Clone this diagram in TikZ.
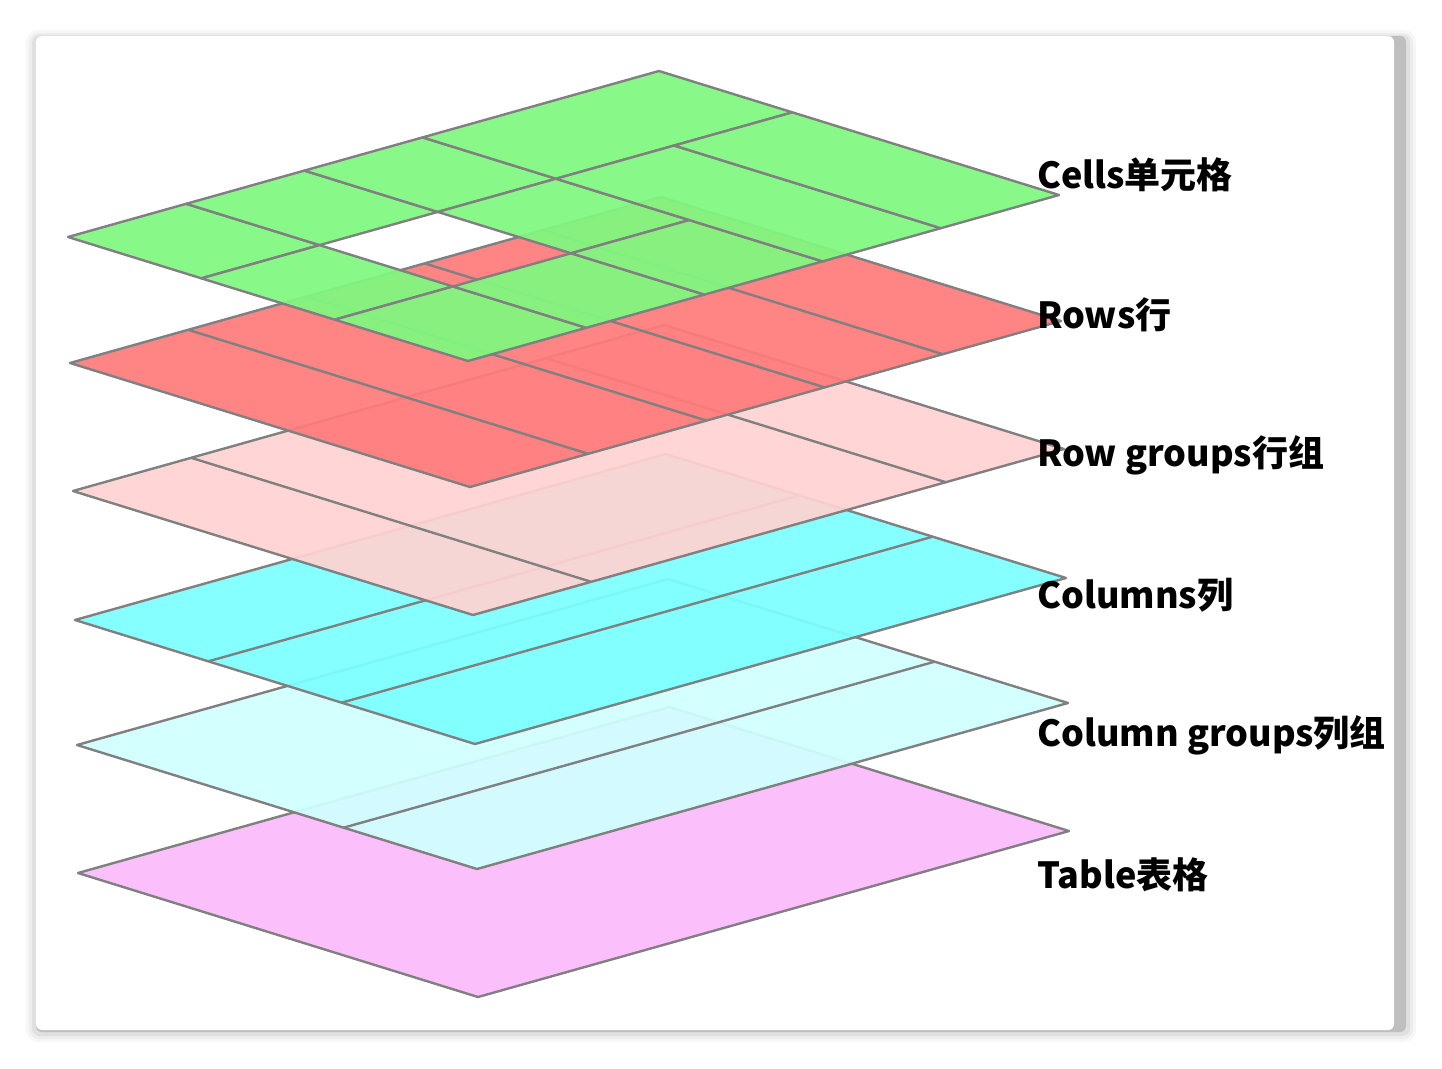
\documentclass[tikz,border=0pt]{standalone}
\usepackage{fontspec}
\setmainfont{Noto Sans CJK SC}
\definecolor{cgreen}{HTML}{7FF97F}
\definecolor{cred}{HTML}{FF7B7B}
\definecolor{cpink}{HTML}{FFD2D2}
\definecolor{ccyan}{HTML}{7CFFFF}
\definecolor{clcyan}{HTML}{D0FFFF}
\definecolor{cmag}{HTML}{FBBBFB}
\definecolor{cedge}{HTML}{808080}
\tikzset{
  plane/.style={draw=cedge,line width=2.4pt,line join=round,fill opacity=0.93},
  divline/.style={draw=cedge,line width=2.4pt},
  lbl/.style={anchor=west,font=\fontsize{36}{40}\selectfont\bfseries,inner sep=0pt},
  layer/.style 2 args={shift={(#1pt,-#2pt)},x={(400pt,-124pt)},y={(591pt,166pt)}}
}
\newcommand{\mycell}[4]{\filldraw[plane,fill=cgreen] (#1,#2)--(#3,#2)--(#3,#4)--(#1,#4)--cycle;}
\begin{document}
\begin{tikzpicture}[x=1pt,y=-1pt]
\useasboundingbox (0,0) rectangle (1442,1068);
% card shadow
\fill[black!3,rounded corners=12] (26,30) rectangle (1416,1042);
\fill[black!7,rounded corners=10] (29,33) rectangle (1413,1039);
\fill[black!12,rounded corners=8] (32,35) rectangle (1410,1036);
\fill[black!25,rounded corners=6] (36,36) rectangle (1406,1032);
\fill[white,rounded corners=6] (36,36) rectangle (1394,1030);
% Table
\begin{scope}[layer={78}{873}]
\filldraw[plane,fill=cmag] (0,0)--(1,0)--(1,1)--(0,1)--cycle;
\end{scope}
% Column groups
\begin{scope}[layer={77}{745}]
\filldraw[plane,fill=clcyan] (0,0)--(1,0)--(1,1)--(0,1)--cycle;
\draw[divline] (2/3,0)--(2/3,1);
\end{scope}
% Columns
\begin{scope}[layer={75}{620}]
\filldraw[plane,fill=ccyan] (0,0)--(1,0)--(1,1)--(0,1)--cycle;
\draw[divline] (1/3,0)--(1/3,1) (2/3,0)--(2/3,1);
\end{scope}
% Row groups
\begin{scope}[layer={73}{491}]
\filldraw[plane,fill=cpink] (0,0)--(1,0)--(1,1)--(0,1)--cycle;
\draw[divline] (0,0.2)--(1,0.2) (0,0.8)--(1,0.8);
\end{scope}
% Rows
\begin{scope}[layer={70}{363}]
\filldraw[plane,fill=cred] (0,0)--(1,0)--(1,1)--(0,1)--cycle;
\draw[divline] (0,0.2)--(1,0.2) (0,0.4)--(1,0.4) (0,0.6)--(1,0.6) (0,0.8)--(1,0.8);
\end{scope}
% Cells
\begin{scope}[layer={68}{237}]
\mycell{0}{0}{1/3}{0.2}
\mycell{0}{0.2}{1/3}{0.4}
\mycell{0}{0.4}{1/3}{0.6}
\mycell{0}{0.6}{1/3}{1}
\mycell{1/3}{0}{2/3}{0.2}
\mycell{2/3}{0}{1}{0.2}
\mycell{2/3}{0.2}{1}{0.4}
\mycell{1/3}{0.4}{2/3}{0.6}
\mycell{2/3}{0.4}{1}{0.6}
\mycell{1/3}{0.6}{1}{0.8}
\mycell{1/3}{0.8}{1}{1}
\end{scope}
% labels
\node[lbl] (lcells) at (1037,175) {Cells单元格};
\node[lbl] (lrows) at (1037,315) {Rows行};
\node[lbl] (lrg) at (1037,455) {Row groups行组};
\node[lbl] (lcols) at (1037,595) {Columns列};
\node[lbl] (lcg) at (1037,735) {Column groups列组};
\node[lbl] (ltab) at (1037,875) {Table表格};
\end{tikzpicture}
\end{document}
